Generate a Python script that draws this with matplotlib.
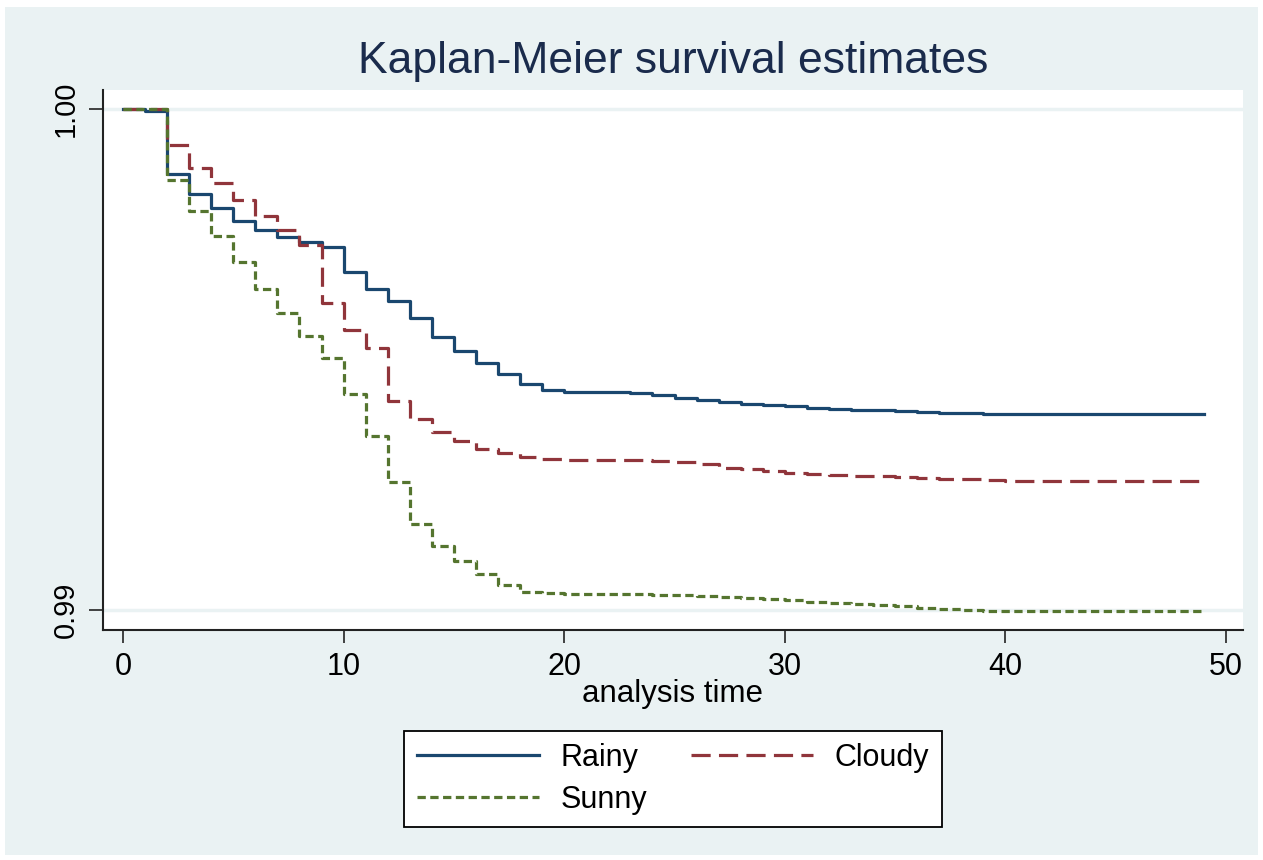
import numpy as np
import matplotlib
matplotlib.use('Agg')
import matplotlib.pyplot as plt
from matplotlib.patches import Rectangle

plt.rcParams['font.family'] = ['Liberation Sans', 'DejaVu Sans']

# analysis time (integer steps)
tempo = np.arange(0, 50)

# survival estimates
rainy = [1.0, 0.99996, 0.99870, 0.99830, 0.99802, 0.99776, 0.99758, 0.99745, 0.99735, 0.99725,
         0.99675, 0.99641, 0.99617, 0.99583, 0.99545, 0.99517, 0.99493, 0.99471, 0.99451, 0.99439,
         0.99435, 0.99435, 0.99435, 0.99433, 0.99429, 0.99423, 0.99419, 0.99415, 0.99411, 0.99409,
         0.99407, 0.99403, 0.99401, 0.99400, 0.99399, 0.99397, 0.99395, 0.99394, 0.99393, 0.99392,
         0.99391, 0.99391, 0.99391, 0.99391, 0.99391, 0.99391, 0.99391, 0.99391, 0.99391, 0.99391]

cloudy = [1.0, 1.0, 0.99928, 0.99882, 0.99852, 0.99818, 0.99786, 0.99758, 0.99729, 0.99613,
          0.99559, 0.99523, 0.99417, 0.99381, 0.99355, 0.99337, 0.99321, 0.99313, 0.99305, 0.99301,
          0.99300, 0.99300, 0.99300, 0.99300, 0.99298, 0.99295, 0.99292, 0.99284, 0.99281, 0.99277,
          0.99274, 0.99271, 0.99270, 0.99268, 0.99267, 0.99265, 0.99263, 0.99262, 0.99261, 0.99259,
          0.99258, 0.99258, 0.99258, 0.99258, 0.99258, 0.99258, 0.99258, 0.99258, 0.99258, 0.99258]

sunny = [1.0, 1.0, 0.99858, 0.99796, 0.99747, 0.99695, 0.99641, 0.99593, 0.99547, 0.99503,
         0.99431, 0.99347, 0.99255, 0.99172, 0.99128, 0.99098, 0.99072, 0.99050, 0.99036, 0.99033,
         0.99031, 0.99031, 0.99031, 0.99031, 0.99030, 0.99029, 0.99028, 0.99025, 0.99023, 0.99021,
         0.99019, 0.99016, 0.99014, 0.99011, 0.99010, 0.99008, 0.99005, 0.99002, 0.99001, 0.98999,
         0.98998, 0.98998, 0.98998, 0.98998, 0.98998, 0.98998, 0.98998, 0.98998, 0.98998, 0.98998]

xticks = [0, 10, 20, 30, 40, 50]
yticks = [0.99, 1.00]
ylabels = ['0.99', '1.00']

fundo = '#EAF2F3'
azul = '#1a476f'
vermelho = '#90353b'
verde = '#55752f'

fig = plt.figure(figsize=(12.63, 8.6), dpi=100, facecolor='white')
fig.patches.append(Rectangle((5 / 1263, 5 / 860), 1253 / 1263, 848 / 860,
                             transform=fig.transFigure, facecolor=fundo,
                             edgecolor='none', zorder=-10))

ax = fig.add_axes([103 / 1263, 1 - 630 / 860, 1140 / 1263, 540 / 860])
ax.set_facecolor('white')

for y in yticks:
    ax.axhline(y, color=fundo, lw=2.5, zorder=1)

lw = 2.3
ax.step(tempo, rainy, where='post', color=azul, lw=lw, label='Rainy', zorder=3)
ax.step(tempo, cloudy, where='post', color=vermelho, lw=lw, label='Cloudy',
        dashes=(6.0, 2.6), zorder=3)
ax.step(tempo, sunny, where='post', color=verde, lw=lw, label='Sunny',
        dashes=(2.6, 1.4), zorder=3)

ax.set_xlim(-0.906, 50.77)
ax.set_ylim(0.989601, 1.000379)

ax.set_xticks(xticks)
ax.set_xticklabels([str(v) for v in xticks])
ax.set_yticks(yticks)
ax.set_yticklabels(ylabels, rotation=90, va='center')
ax.tick_params(axis='x', labelsize=22, length=9, width=1.3, color='#333333', pad=7)
ax.tick_params(axis='y', labelsize=21, length=10, width=1.3, color='#333333', pad=7)

for s in ['top', 'right']:
    ax.spines[s].set_visible(False)
for s in ['left', 'bottom']:
    ax.spines[s].set_color('#222222')
    ax.spines[s].set_linewidth(1.5)

ax.set_xlabel('analysis time', fontsize=22.5, labelpad=-2)
fig.text(673 / 1263, 1 - 62 / 860, 'Kaplan-Meier survival estimates', fontsize=32,
         color='#1a2b4c', ha='center', va='center')

h, l = ax.get_legend_handles_labels()
ordem = [0, 2, 1]
leg = fig.legend([h[i] for i in ordem], [l[i] for i in ordem], ncol=2,
                 loc='center', bbox_to_anchor=(673 / 1263, 1 - 779 / 860),
                 fontsize=22, handlelength=4.0, handletextpad=0.7,
                 columnspacing=1.45, labelspacing=0.4, fancybox=False,
                 frameon=True, borderpad=0.4, framealpha=1, facecolor='white')
leg.get_frame().set_edgecolor('black')
leg.get_frame().set_linewidth(1.3)

plt.savefig('out.png', dpi=100, facecolor=fig.get_facecolor())
